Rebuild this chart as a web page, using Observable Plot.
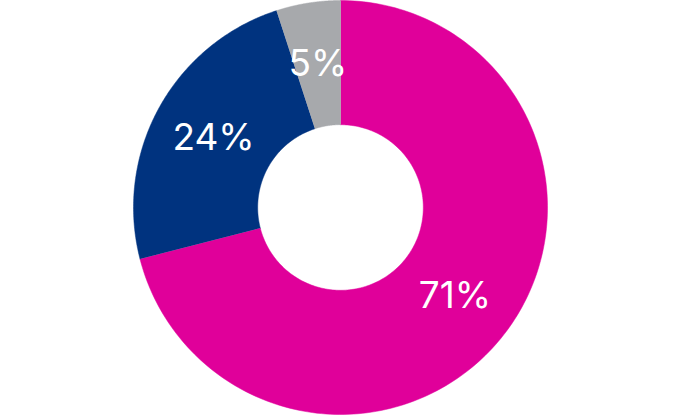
<!DOCTYPE html>
<html>
<head>
<meta charset="utf-8">
<script src="https://cdn.jsdelivr.net/npm/d3@7"></script>
<script src="https://cdn.jsdelivr.net/npm/@observablehq/plot@0.6"></script>
<style>
  html, body { margin: 0; padding: 0; background: #fff; }
  #chart { width: 680px; height: 416px; }
</style>
</head>
<body>
<div id="chart"></div>
<script>
const categories = ["A", "B", "C"];
const values = [71, 24, 5];
const labels = ["71%", "24%", "5%"];
const colors = ["#E0009A", "#00337F", "#A7A9AC"];

const innerR = 0.4;
const outerR = 1;

const pie = d3.pie().sort(null).value(d => d.value);
const slices = pie(categories.map((c, i) => ({ category: c, value: values[i], label: labels[i] })));

// polygon outline points for each slice (angle clockwise from top)
const polyRows = [];
for (const s of slices) {
  const n = 200;
  for (let k = 0; k <= n; k++) {
    const a = s.startAngle + (s.endAngle - s.startAngle) * k / n;
    polyRows.push({ category: s.data.category, x: outerR * Math.sin(a), y: outerR * Math.cos(a) });
  }
  for (let k = n; k >= 0; k--) {
    const a = s.startAngle + (s.endAngle - s.startAngle) * k / n;
    polyRows.push({ category: s.data.category, x: innerR * Math.sin(a), y: innerR * Math.cos(a) });
  }
}

const labelRows = slices.map(s => {
  const a = (s.startAngle + s.endAngle) / 2;
  const r = (innerR + outerR) / 2;
  return { label: s.data.label, x: r * Math.sin(a), y: r * Math.cos(a) };
});

const chart = Plot.plot({
  width: 680,
  height: 416,
  marginLeft: 133,
  marginRight: 133,
  marginTop: 0,
  marginBottom: 2,
  x: { domain: [-1, 1], axis: null },
  y: { domain: [-1, 1], axis: null },
  color: { domain: categories, range: colors },
  style: { background: "white" },
  marks: [
    Plot.line(polyRows, { x: "x", y: "y", z: "category", fill: "category", stroke: "category", strokeWidth: 0.5, curve: "linear" }),
    Plot.text(labelRows, { x: "x", y: "y", text: "label", fill: "white", fontSize: 37, fontFamily: "Inter, 'Liberation Sans', sans-serif", fontWeight: 400 })
  ]
});
document.getElementById("chart").appendChild(chart);
</script>
</body>
</html>
